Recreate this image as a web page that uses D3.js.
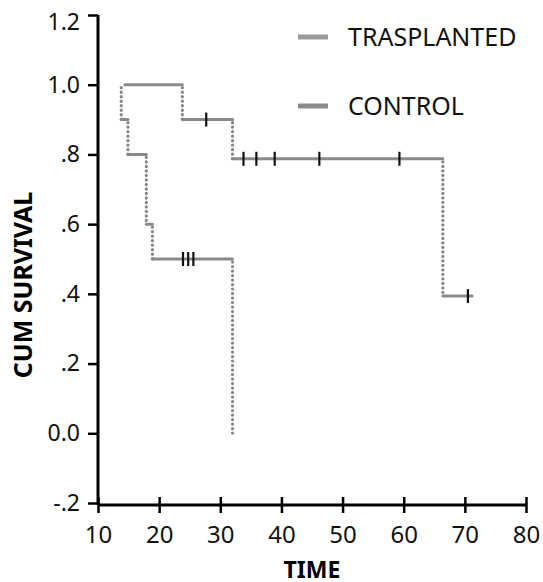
<!DOCTYPE html>
<html>
<head>
<meta charset="utf-8">
<script src="https://cdn.jsdelivr.net/npm/d3@7"></script>
<style>
  body { margin: 0; background: #fff; }
  svg { display: block; }
</style>
</head>
<body>
<div id="chart"></div>
<script>
"use strict";

const width = 543;
const height = 582;

// survival data
const xTicks = [10, 20, 30, 40, 50, 60, 70, 80];
const yTicks = [-0.2, 0, 0.2, 0.4, 0.6, 0.8, 1.0, 1.2];
const yTickLabels = ["-.2", "0.0", ".2", ".4", ".6", ".8", "1.0", "1.2"];

const transStart = 14.4;
const transEnd = 71.2;
const transDrops = [23.8, 32.0, 66.4];
const transSurv = [0.9, 0.7875, 0.39375];
const transCensor = [27.7, 33.8, 35.9, 38.9, 46.2, 59.3, 70.5];

const controlStart = 13.8;
const controlEnd = 32.0;
const controlDrops = [13.8, 14.9, 17.9, 18.9, 32.0];
const controlSurv = [0.9, 0.8, 0.6, 0.5, 0.0];
const controlCensor = [23.9, 24.75, 25.6];

const legendNames = ["TRASPLANTED", "CONTROL"];
const legendColors = ["#9a9a9a", "#8a8a8a"];

const x = d3.scaleLinear().domain([10, 80]).range([98, 526]);
const y = d3.scaleLinear().domain([-0.2, 1.2]).range([503, 15]);

const svg = d3.select("#chart").append("svg")
  .attr("width", width)
  .attr("height", height);

const lineColor = "#8a8a8a";

function buildSeries(start, end, drops, surv) {
  const horiz = [];
  const vert = [];
  let level = 1.0;
  let t0 = start;
  drops.forEach(function(t, i) {
    if (t > t0) horiz.push({ t0: t0, t1: t, s: level });
    vert.push({ t: t, s0: level, s1: surv[i] });
    level = surv[i];
    t0 = t;
  });
  if (end > t0) horiz.push({ t0: t0, t1: end, s: level });
  return { horiz: horiz, vert: vert };
}

function survAt(t, drops, surv) {
  let level = 1.0;
  drops.forEach(function(d, i) {
    if (t >= d) level = surv[i];
  });
  return level;
}

function drawSeries(g, series, censor, drops, surv) {
  g.selectAll(".h")
    .data(series.horiz)
    .join("line")
    .attr("class", "h")
    .attr("x1", d => x(d.t0))
    .attr("x2", d => x(d.t1))
    .attr("y1", d => y(d.s))
    .attr("y2", d => y(d.s))
    .attr("stroke", lineColor)
    .attr("stroke-width", 3)
    .attr("stroke-linecap", "round");

  g.selectAll(".v")
    .data(series.vert)
    .join("line")
    .attr("class", "v")
    .attr("x1", d => x(d.t))
    .attr("x2", d => x(d.t))
    .attr("y1", d => y(d.s0) + 3)
    .attr("y2", d => y(d.s1))
    .attr("stroke", "#858585")
    .attr("stroke-width", 3.2)
    .attr("stroke-linecap", "round")
    .attr("stroke-dasharray", "0.1 4.4");

  g.selectAll(".c")
    .data(censor)
    .join("line")
    .attr("class", "c")
    .attr("x1", d => x(d))
    .attr("x2", d => x(d))
    .attr("y1", d => y(survAt(d, drops, surv)) - 7)
    .attr("y2", d => y(survAt(d, drops, surv)) + 7)
    .attr("stroke", "#111")
    .attr("stroke-width", 2.2);
}

drawSeries(svg.append("g"), buildSeries(controlStart, controlEnd, controlDrops, controlSurv),
  controlCensor, controlDrops, controlSurv);
drawSeries(svg.append("g"), buildSeries(transStart, transEnd, transDrops, transSurv),
  transCensor, transDrops, transSurv);

// axes
const font = "'Noto Sans', sans-serif";

const yAxis = svg.append("g")
  .attr("transform", "translate(98,0)")
  .call(d3.axisLeft(y)
    .tickValues(yTicks)
    .tickSize(10)
    .tickPadding(8)
    .tickFormat((d, i) => yTickLabels[i]));

const xAxis = svg.append("g")
  .attr("transform", "translate(0,505)")
  .call(d3.axisBottom(x)
    .tickValues(xTicks)
    .tickSize(8)
    .tickPadding(13)
    .tickFormat(d3.format("d")));

[yAxis, xAxis].forEach(function(a) {
  a.select(".domain")
    .attr("stroke", "#000")
    .attr("stroke-width", 3);
  a.selectAll(".tick line")
    .attr("stroke", "#000")
    .attr("stroke-width", 2.5);
  a.selectAll("text")
    .attr("fill", "#111")
    .style("font-family", font);
});

yAxis.selectAll("text").style("font-size", "23px");
xAxis.selectAll("text").style("font-size", "24px");

// top label sits a bit below its tick, as in the original
yAxis.selectAll(".tick text")
  .filter(d => d === 1.2)
  .attr("dy", "0.62em");

yAxis.select(".domain").attr("d", "M0,15V505");
xAxis.select(".domain").attr("d", "M98,0H526");
xAxis.selectAll(".tick line").attr("y1", -8);

// axis titles
svg.append("text")
  .attr("x", x(45))
  .attr("y", 578)
  .attr("text-anchor", "middle")
  .style("font-family", font)
  .style("font-weight", "bold")
  .style("font-size", "23px")
  .text("TIME");

svg.append("text")
  .attr("transform", "translate(32,285) rotate(-90)")
  .attr("text-anchor", "middle")
  .style("font-family", font)
  .style("font-weight", "bold")
  .style("font-size", "25px")
  .text("CUM SURVIVAL");

// legend
const legend = svg.append("g");
const legendRows = legend.selectAll("g")
  .data(legendNames)
  .join("g")
  .attr("transform", (d, i) => "translate(298," + (37 + i * 69) + ")");

legendRows.append("line")
  .attr("x1", 0)
  .attr("x2", 30)
  .attr("stroke", (d, i) => legendColors[i])
  .attr("stroke-width", 5);

legendRows.append("text")
  .attr("x", 50)
  .attr("y", 9)
  .style("font-family", font)
  .style("font-size", "25px")
  .attr("fill", "#111")
  .text(d => d);
</script>
</body>
</html>
